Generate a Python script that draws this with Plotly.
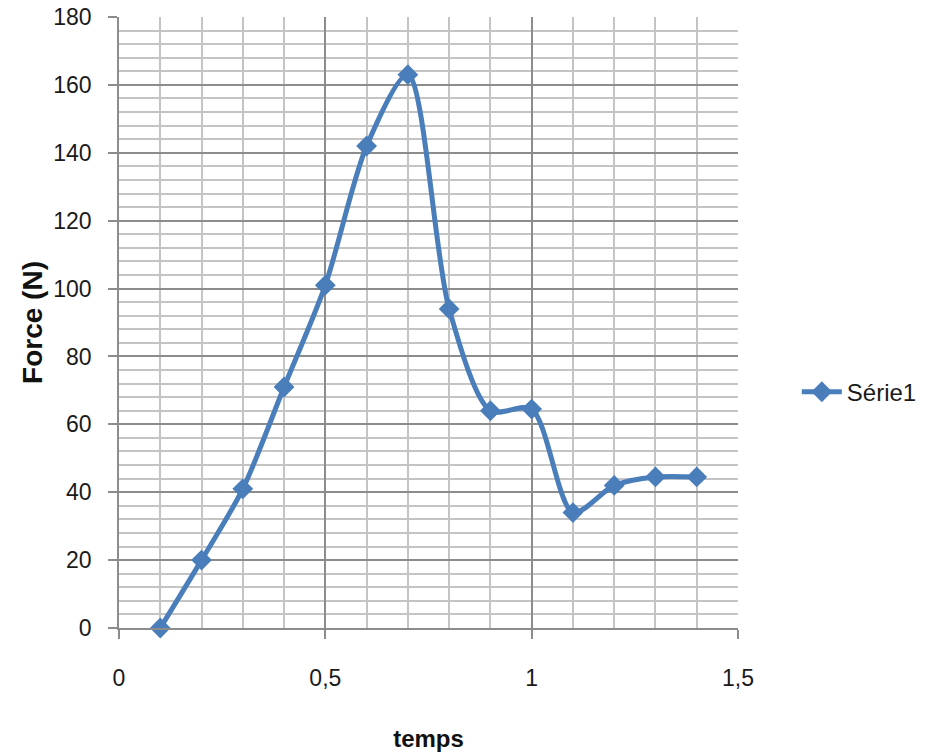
import plotly.graph_objects as go

temps = [0.1, 0.2, 0.3, 0.4, 0.5, 0.6, 0.7, 0.8, 0.9, 1.0, 1.1, 1.2, 1.3, 1.4]
force = [0, 20, 41, 71, 101, 142, 163, 94, 64, 64.5, 34, 42, 44.5, 44.5]
series_name = "Série1"
x_ticks = [0, 0.5, 1, 1.5]
x_tick_text = ["0", "0,5", "1", "1,5"]
y_ticks = list(range(0, 181, 20))

blue = "#4a7ebb"
font_family = "Liberation Sans, Arial"

fig = go.Figure()
fig.add_trace(go.Scatter(
    x=temps, y=force, name=series_name, mode="lines+markers",
    line=dict(color=blue, width=5, shape="spline", smoothing=0.8),
    marker=dict(symbol="diamond", size=16, color=blue),
    cliponaxis=False,
))

fig.update_layout(
    width=927, height=756,
    margin=dict(l=119, r=189, t=17, b=128, autoexpand=False),
    paper_bgcolor="white", plot_bgcolor="white",
    separators=", ",
    font=dict(family=font_family, size=23, color="#1a1a1a"),
    showlegend=True,
    legend=dict(x=1.095, y=0.386, xanchor="left", yanchor="middle",
                font=dict(size=24, color="#1a1a1a"), itemwidth=40),
    xaxis=dict(
        range=[0, 1.5], tickvals=x_ticks, ticktext=x_tick_text,
        automargin=False,
        showgrid=True, gridcolor="#8c8c8c", gridwidth=1.5,
        minor=dict(dtick=0.1, tick0=0, showgrid=True, gridcolor="#c4c4c4", gridwidth=1.5),
        ticks="outside", ticklen=9, tickcolor="#8c8c8c", tickwidth=1.5,
        showline=True, linecolor="#8c8c8c", linewidth=1.5,
        zeroline=False, ticklabelstandoff=20,
        title=dict(text="<b>temps</b>", font=dict(size=24, color="#111"), standoff=40),
    ),
    yaxis=dict(
        range=[0, 180], tickvals=y_ticks,
        automargin=False,
        showgrid=True, gridcolor="#8c8c8c", gridwidth=1.5,
        minor=dict(dtick=4, tick0=0, showgrid=True, gridcolor="#c4c4c4", gridwidth=1.5),
        ticks="outside", ticklen=9, tickcolor="#8c8c8c", tickwidth=1.5,
        showline=True, linecolor="#8c8c8c", linewidth=1.5,
        zeroline=False, ticklabelstandoff=12,
        title=dict(text="<b>Force (N)</b>", font=dict(size=28, color="#111"), standoff=2),
    ),
)

fig.write_html("out.html")
